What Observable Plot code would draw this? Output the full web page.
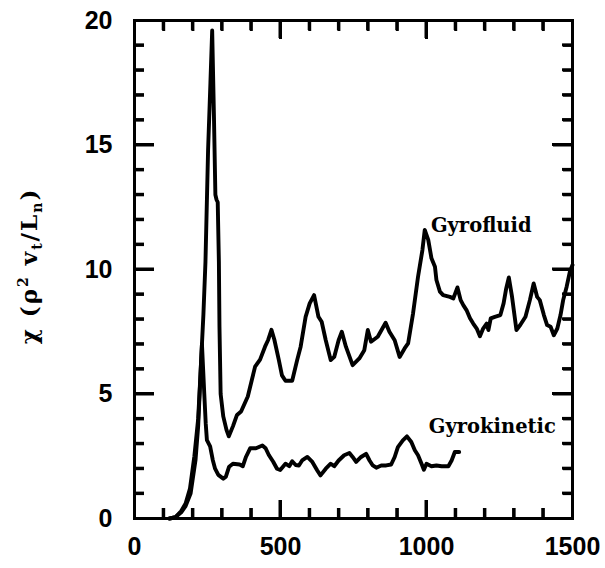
<!DOCTYPE html>
<html>
<head>
<meta charset="utf-8">
<script src="https://cdn.jsdelivr.net/npm/d3@7"></script>
<script src="https://cdn.jsdelivr.net/npm/@observablehq/plot@0.6"></script>
<style>
  html, body { margin: 0; padding: 0; background: #fff; }
</style>
</head>
<body>
<div id="chart"></div>
<script>
// Heat diffusivity χ over time for the two models
const gyrofluidTime = [120, 140, 160, 175, 190, 205, 218, 226, 231, 236, 243, 252, 260, 266, 272, 277, 281, 285, 289, 291, 295, 304, 315, 323, 337, 351, 365, 388, 402, 413, 430, 447, 458, 469, 479, 494, 505, 517, 540, 557, 569, 586, 600, 615, 630, 641, 655, 672, 684, 699, 710, 724, 747, 770, 787, 799, 810, 833, 860, 873, 891, 908, 925, 937, 954, 971, 986, 994, 1006, 1017, 1029, 1034, 1046, 1057, 1080, 1092, 1106, 1117, 1126, 1137, 1149, 1160, 1172, 1183, 1194, 1206, 1212, 1220, 1234, 1253, 1264, 1273, 1282, 1293, 1308, 1321, 1339, 1354, 1367, 1379, 1388, 1402, 1413, 1425, 1436, 1448, 1459, 1468, 1480, 1491, 1500];
const gyrofluidChi = [0, 0.05, 0.3, 0.6, 1.2, 2.5, 4.0, 5.8, 7.0, 8.2, 10.3, 14.8, 17.5, 19.6, 16.2, 13.0, 12.8, 12.7, 10.3, 7.7, 5.0, 4.1, 3.56, 3.3, 3.7, 4.16, 4.3, 4.9, 5.57, 6.1, 6.38, 6.9, 7.18, 7.58, 7.18, 6.38, 5.75, 5.53, 5.53, 6.36, 6.9, 8.1, 8.64, 8.97, 8.1, 7.9, 7.16, 6.36, 6.49, 7.16, 7.5, 6.9, 6.16, 6.43, 6.76, 7.57, 7.1, 7.3, 7.86, 7.5, 7.16, 6.49, 6.83, 7.03, 8.24, 9.71, 10.78, 11.59, 11.19, 10.45, 10.11, 9.58, 9.11, 8.97, 8.9, 8.84, 9.28, 8.77, 8.57, 8.37, 8.04, 7.83, 7.63, 7.32, 7.63, 7.83, 7.57, 8.04, 8.1, 8.17, 8.64, 9.24, 9.68, 8.9, 7.57, 7.77, 8.1, 8.77, 9.44, 8.9, 8.77, 8.17, 7.77, 7.7, 7.36, 7.63, 8.17, 8.77, 9.31, 9.91, 10.18];

const gyrokineticTime = [120, 140, 160, 175, 192, 209, 218, 223, 228, 231, 235, 239, 244, 248, 259, 268, 276, 287, 304, 313, 324, 337, 360, 371, 382, 396, 416, 438, 449, 460, 475, 488, 499, 517, 530, 540, 552, 563, 574, 592, 609, 626, 637, 655, 672, 684, 699, 718, 736, 747, 759, 776, 793, 805, 816, 828, 845, 862, 879, 891, 902, 919, 933, 948, 960, 971, 983, 991, 1000, 1017, 1034, 1052, 1075, 1086, 1097, 1112];
const gyrokineticChi = [0, 0.05, 0.25, 0.5, 1.0, 2.35, 3.7, 5.0, 6.3, 7.0, 6.0, 5.0, 3.8, 3.15, 2.9, 2.35, 2.0, 1.75, 1.6, 1.68, 2.08, 2.2, 2.17, 2.1, 2.48, 2.82, 2.82, 2.93, 2.82, 2.55, 2.28, 2.0, 1.95, 2.2, 2.1, 2.3, 2.15, 2.13, 2.33, 2.47, 2.27, 1.93, 1.73, 2.0, 2.2, 2.1, 2.33, 2.54, 2.63, 2.47, 2.27, 2.47, 2.6, 2.33, 2.13, 2.04, 2.13, 2.13, 2.17, 2.47, 2.87, 3.14, 3.3, 3.07, 2.74, 2.54, 2.2, 1.96, 2.2, 2.1, 2.13, 2.1, 2.1, 2.33, 2.67, 2.67];

// Curve labels and their anchor points (time, χ)
const seriesNames = ["Gyrofluid", "Gyrokinetic"];
const labelTime = [1015, 1008];
const labelChi = [11.5, 3.45];

// Axis ticks
const xTickLabels = [0, 500, 1000, 1500];
const xMajorTicks = [500, 1000];
const xMinorTicks = [100, 200, 300, 400, 600, 700, 800, 900, 1100, 1200, 1300, 1400];
const yTickLabels = [0, 5, 10, 15, 20];
const yMajorTicks = [5, 10, 15];
const yMinorTicks = [1, 2, 3, 4, 6, 7, 8, 9, 11, 12, 13, 14, 16, 17, 18, 19];

const gyrofluid = gyrofluidTime.map((t, i) => ({t, chi: gyrofluidChi[i]}));
const gyrokinetic = gyrokineticTime.map((t, i) => ({t, chi: gyrokineticChi[i]}));
const labels = seriesNames.map((name, i) => ({name, t: labelTime[i], chi: labelChi[i]}));

const W = 605, H = 568;
const margin = {top: 20, right: 33, bottom: 50, left: 134};

const tickFont = {fontSize: 25, fontWeight: "bold", fontFamily: "Liberation Sans, Arial, sans-serif", tickFormat: (d) => String(d)};

// inward tick marks: an axis tick of the given length, shifted back across the frame edge
const inwardTicks = (axis, anchor, values, len) => axis({
  anchor, ticks: values, tickSize: len,
  ...(anchor === "bottom" ? {dy: -len} : anchor === "top" ? {dy: len} : anchor === "left" ? {dx: len} : {dx: -len}),
  fill: "none", stroke: "#000", strokeWidth: 3, label: null
});

const tickSets = [
  ["x", "bottom", xMajorTicks, 18], ["x", "bottom", xMinorTicks, 10],
  ["x", "top", xMajorTicks, 18], ["x", "top", xMinorTicks, 10],
  ["y", "left", yMajorTicks, 20], ["y", "left", yMinorTicks, 10],
  ["y", "right", yMajorTicks, 20], ["y", "right", yMinorTicks, 10]
];

const chart = Plot.plot({
  width: W,
  height: H,
  marginLeft: margin.left,
  marginRight: margin.right,
  marginTop: margin.top,
  marginBottom: margin.bottom,
  style: {background: "#fff", color: "#000"},
  x: {domain: [0, 1500]},
  y: {domain: [0, 20]},
  marks: [
    // tick labels
    Plot.axisX({ticks: xTickLabels, tickSize: 0, tickPadding: 19, label: null, ...tickFont}),
    Plot.axisY({ticks: yTickLabels, tickSize: 0, tickPadding: 22, label: null, ...tickFont}),
    // inward ticks on all four sides
    ...tickSets.map(([k, anchor, values, len]) => inwardTicks(k === "x" ? Plot.axisX : Plot.axisY, anchor, values, len)),
    Plot.frame({stroke: "#000", strokeWidth: 3}),
    // the two time traces
    Plot.line(gyrofluid, {x: "t", y: "chi", stroke: "#000", strokeWidth: 3.9, strokeLinejoin: "round", strokeLinecap: "round"}),
    Plot.line(gyrokinetic, {x: "t", y: "chi", stroke: "#000", strokeWidth: 3.9, strokeLinejoin: "round", strokeLinecap: "round"}),
    Plot.text(labels, {x: "t", y: "chi", text: "name", textAnchor: "start", lineAnchor: "bottom",
      fontSize: 19.5, fontWeight: "bold", fontFamily: "DejaVu Serif, serif", fill: "#000"})
  ]
});

const svg = d3.select(chart);

// the same inward ticks, positioned through the chart's own scales
const xs = chart.scale("x"), ys = chart.scale("y");
const x0 = xs.apply(0), x1 = xs.apply(1500), y0 = ys.apply(0), y1 = ys.apply(20);
const tickG = svg.append("g").attr("stroke", "#000").attr("stroke-width", 3);
for (const [k, anchor, values, len] of tickSets) {
  for (const v of values) {
    if (k === "x") {
      const px = xs.apply(v);
      const py = anchor === "bottom" ? y0 : y1;
      tickG.append("line").attr("x1", px).attr("x2", px).attr("y1", py).attr("y2", anchor === "bottom" ? py - len : py + len);
    } else {
      const py = ys.apply(v);
      const px = anchor === "left" ? x0 : x1;
      tickG.append("line").attr("y1", py).attr("y2", py).attr("x1", px).attr("x2", anchor === "left" ? px + len : px - len);
    }
  }
}

// y-axis title with super- and subscripts
const title = svg.append("text")
  .attr("transform", "translate(37,266) rotate(-90)")
  .attr("text-anchor", "middle")
  .attr("font-family", "DejaVu Serif, serif")
  .attr("font-weight", "bold")
  .attr("font-size", 23)
  .attr("letter-spacing", 2)
  .attr("fill", "#000");
title.append("tspan").text("χ (ρ");
title.append("tspan").attr("font-size", 14).attr("dy", -9).text("2");
title.append("tspan").attr("dy", 9).text(" v");
title.append("tspan").attr("font-size", 14).attr("dy", 5).text("t");
title.append("tspan").attr("dy", -5).text("/L");
title.append("tspan").attr("font-size", 14).attr("dy", 5).text("n");
title.append("tspan").attr("dy", -5).text(")");

document.getElementById("chart").appendChild(chart);
</script>
</body>
</html>
